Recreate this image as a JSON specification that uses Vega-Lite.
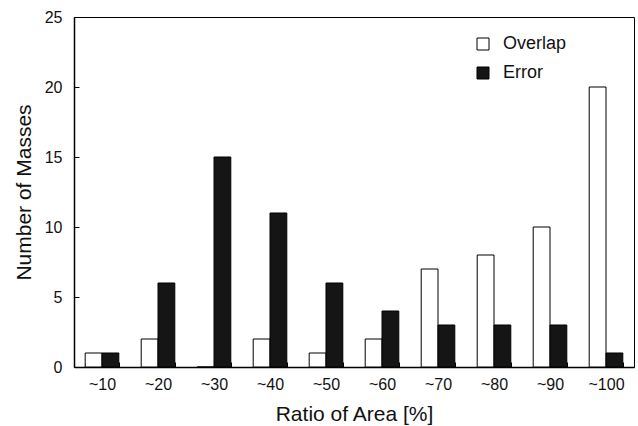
{
  "$schema": "https://vega.github.io/schema/vega-lite/v6.json",
  "width": 560,
  "height": 350,
  "autosize": {"type": "none"},
  "padding": {"left": 74, "top": 17, "right": 4, "bottom": 59},
  "background": "white",
  "config": {
    "font": "Liberation Sans",
    "view": {"stroke": "#000", "strokeWidth": 1},
    "axis": {"grid": false, "domainColor": "#000", "tickColor": "#000", "labelColor": "#111", "titleColor": "#111", "labelFont": "Liberation Sans", "titleFont": "Liberation Sans", "titleFontWeight": "normal"}
  },
  "data": {
    "values": [
      {"ratio": "~10", "type": "Overlap", "count": 1},
      {"ratio": "~10", "type": "Error", "count": 1},
      {"ratio": "~20", "type": "Overlap", "count": 2},
      {"ratio": "~20", "type": "Error", "count": 6},
      {"ratio": "~30", "type": "Overlap", "count": 0},
      {"ratio": "~30", "type": "Error", "count": 15},
      {"ratio": "~40", "type": "Overlap", "count": 2},
      {"ratio": "~40", "type": "Error", "count": 11},
      {"ratio": "~50", "type": "Overlap", "count": 1},
      {"ratio": "~50", "type": "Error", "count": 6},
      {"ratio": "~60", "type": "Overlap", "count": 2},
      {"ratio": "~60", "type": "Error", "count": 4},
      {"ratio": "~70", "type": "Overlap", "count": 7},
      {"ratio": "~70", "type": "Error", "count": 3},
      {"ratio": "~80", "type": "Overlap", "count": 8},
      {"ratio": "~80", "type": "Error", "count": 3},
      {"ratio": "~90", "type": "Overlap", "count": 10},
      {"ratio": "~90", "type": "Error", "count": 3},
      {"ratio": "~100", "type": "Overlap", "count": 20},
      {"ratio": "~100", "type": "Error", "count": 1}
    ]
  },
  "mark": {"type": "bar", "stroke": "#000", "strokeWidth": 1},
  "encoding": {
    "x": {
      "field": "ratio",
      "type": "nominal",
      "sort": null,
      "scale": {"paddingInner": 0.4, "paddingOuter": 0.2},
      "axis": {
        "title": "Ratio of Area [%]",
        "titleFontSize": 21,
        "titlePadding": 11,
        "labelFontSize": 16,
        "labelAngle": 0,
        "labelPadding": 14,
        "labelDx": 6,
        "tickBand": "extent",
        "tickSize": -5,
        "domainWidth": 1.5
      }
    },
    "xOffset": {"field": "type", "type": "nominal", "sort": ["Overlap", "Error"]},
    "y": {
      "field": "count",
      "type": "quantitative",
      "scale": {"domain": [0, 25], "nice": false},
      "axis": {
        "title": "Number of Masses",
        "titleFontSize": 21,
        "titlePadding": 10,
        "labelFontSize": 16,
        "values": [0, 5, 10, 15, 20, 25],
        "tickSize": -5,
        "labelPadding": 17,
        "domainWidth": 1.5
      }
    },
    "fill": {
      "field": "type",
      "type": "nominal",
      "sort": ["Overlap", "Error"],
      "scale": {"domain": ["Overlap", "Error"], "range": ["#ffffff", "#151515"]},
      "legend": {
        "title": null,
        "orient": "none",
        "legendX": 400,
        "legendY": 18,
        "symbolType": "square",
        "symbolSize": 144,
        "symbolStrokeColor": "#000",
        "symbolStrokeWidth": 1,
        "labelFontSize": 18,
        "labelColor": "#111",
        "labelOffset": 11,
        "rowPadding": 11
      }
    }
  }
}
